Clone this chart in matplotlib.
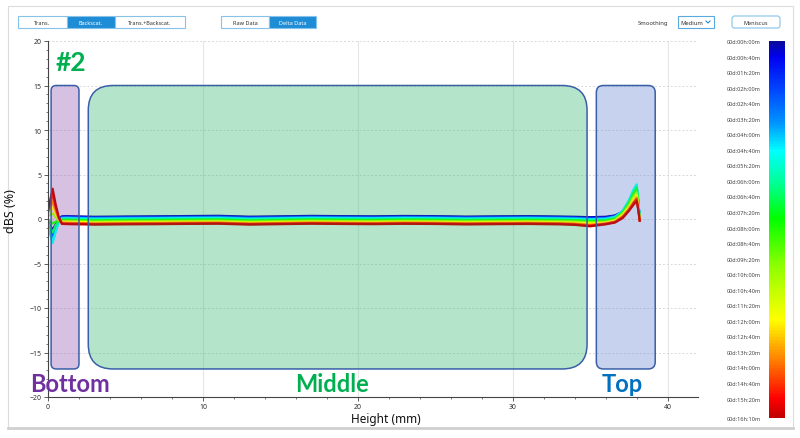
import matplotlib
matplotlib.use("Agg")
import matplotlib.pyplot as plt
from matplotlib.cm import ScalarMappable
from matplotlib.colors import LinearSegmentedColormap, Normalize, to_rgba
from matplotlib.patches import FancyBboxPatch, Rectangle
from matplotlib.ticker import MultipleLocator

plt.rcParams["font.family"] = ["Noto Sans", "DejaVu Sans"]

# sample heights (mm) shared by all scans
HEIGHTS = [0.0, 0.15, 0.3, 0.5, 0.7, 0.9, 1.2, 1.6, 2.2,
           3, 5, 7, 9, 11, 13, 15, 17, 19, 21, 23, 25, 27, 29, 31, 33,
           34, 35, 36, 36.6, 37.1, 37.5, 37.8, 38.0, 38.1, 38.2]

# scan times in minutes since start
SCAN_MINUTES = [0, 60, 150, 240, 290, 400, 480, 600, 720, 820, 900, 970]

# delta backscattering (%) per scan
DBS_SCANS = [
    [-0.3, -0.8, -1.2, -0.6, 0.0, 0.3, 0.32, 0.3, 0.28,
     0.25, 0.28, 0.3, 0.33, 0.36, 0.26, 0.3, 0.35, 0.32, 0.3, 0.34, 0.32, 0.27, 0.3, 0.32, 0.28,
     0.25, 0.2, 0.25, 0.4, 0.8, 1.5, 2.4, 3.0, 1.8, 0.1],
    [-0.4, -1.0, -1.6, -0.8, -0.1, 0.25, 0.27, 0.25, 0.22,
     0.19, 0.22, 0.25, 0.27, 0.3, 0.2, 0.24, 0.29, 0.26, 0.24, 0.28, 0.26, 0.21, 0.24, 0.26, 0.22,
     0.18, 0.13, 0.18, 0.35, 0.8, 1.6, 2.6, 3.2, 1.9, 0.1],
    [-0.5, -1.3, -2.0, -1.0, -0.2, 0.18, 0.2, 0.18, 0.15,
     0.12, 0.15, 0.17, 0.2, 0.23, 0.12, 0.17, 0.22, 0.19, 0.17, 0.21, 0.19, 0.14, 0.17, 0.19, 0.15,
     0.12, 0.05, 0.1, 0.3, 0.85, 1.8, 2.9, 3.5, 2.1, 0.05],
    [-0.6, -1.6, -2.5, -1.3, -0.3, 0.1, 0.12, 0.1, 0.08,
     0.05, 0.08, 0.1, 0.13, 0.15, 0.05, 0.1, 0.15, 0.12, 0.1, 0.14, 0.12, 0.07, 0.1, 0.12, 0.08,
     0.05, -0.02, 0.04, 0.25, 0.9, 2.0, 3.2, 3.8, 2.2, 0.05],
    [-0.7, -1.8, -2.7, -1.4, -0.35, 0.05, 0.06, 0.04, 0.02,
     -0.01, 0.02, 0.04, 0.07, 0.09, -0.01, 0.04, 0.09, 0.06, 0.04, 0.08, 0.06, 0.01, 0.04, 0.06, 0.02,
     -0.01, -0.08, -0.02, 0.2, 0.9, 2.1, 3.3, 3.9, 2.3, 0.0],
    [-0.3, -1.0, -1.5, -0.7, -0.2, -0.05, -0.04, -0.06, -0.08,
     -0.11, -0.08, -0.06, -0.03, -0.01, -0.11, -0.06, -0.01, -0.04, -0.06, -0.02, -0.04, -0.09, -0.06, -0.04, -0.08,
     -0.11, -0.18, -0.12, 0.1, 0.8, 1.9, 3.0, 3.6, 2.1, 0.0],
    [0.0, -0.3, -0.5, -0.3, -0.2, -0.13, -0.12, -0.14, -0.16,
     -0.19, -0.16, -0.14, -0.11, -0.09, -0.19, -0.14, -0.09, -0.12, -0.14, -0.1, -0.12, -0.17, -0.14, -0.12, -0.16,
     -0.19, -0.26, -0.2, 0.0, 0.7, 1.7, 2.8, 3.3, 1.9, -0.05],
    [0.3, 0.5, 0.6, 0.2, -0.15, -0.24, -0.23, -0.25, -0.27,
     -0.3, -0.27, -0.25, -0.22, -0.2, -0.3, -0.25, -0.2, -0.23, -0.25, -0.21, -0.23, -0.28, -0.25, -0.23, -0.27,
     -0.3, -0.4, -0.32, -0.1, 0.6, 1.5, 2.5, 3.0, 1.7, -0.1],
    [0.5, 0.9, 1.3, 0.6, -0.1, -0.34, -0.35, -0.37, -0.38,
     -0.41, -0.38, -0.36, -0.33, -0.31, -0.41, -0.36, -0.31, -0.34, -0.36, -0.32, -0.34, -0.39, -0.36, -0.34, -0.38,
     -0.42, -0.52, -0.42, -0.2, 0.45, 1.3, 2.2, 2.7, 1.5, -0.1],
    [0.7, 1.3, 2.0, 0.9, 0.0, -0.43, -0.44, -0.46, -0.47,
     -0.5, -0.47, -0.45, -0.42, -0.4, -0.5, -0.45, -0.4, -0.43, -0.45, -0.41, -0.43, -0.48, -0.45, -0.43, -0.47,
     -0.52, -0.65, -0.5, -0.3, 0.3, 1.1, 1.9, 2.4, 1.3, -0.15],
    [0.9, 1.8, 2.8, 1.3, 0.1, -0.5, -0.51, -0.53, -0.54,
     -0.57, -0.54, -0.52, -0.49, -0.47, -0.57, -0.52, -0.47, -0.5, -0.52, -0.48, -0.5, -0.55, -0.52, -0.5, -0.54,
     -0.6, -0.75, -0.55, -0.35, 0.2, 1.0, 1.8, 2.2, 1.2, -0.2],
    [1.1, 2.2, 3.4, 1.6, 0.2, -0.55, -0.57, -0.59, -0.6,
     -0.63, -0.6, -0.58, -0.55, -0.53, -0.63, -0.58, -0.53, -0.56, -0.58, -0.54, -0.56, -0.61, -0.58, -0.56, -0.6,
     -0.66, -0.82, -0.6, -0.4, 0.1, 0.9, 1.6, 2.0, 1.1, -0.2],
]

COLORBAR_MINUTES = [0, 40, 80, 120, 160, 200, 240, 280, 320, 360, 400, 440,
                    480, 520, 560, 600, 640, 680, 720, 760, 800, 840, 880, 920, 970]

CMAP_STOPS = [(0.0, "#0a0a9a"), (0.04, "#0000f0"), (0.14, "#0050ff"),
              (0.22, "#0098ff"), (0.29, "#00ffff"), (0.38, "#00ff90"),
              (0.47, "#00ff00"), (0.60, "#90ff00"), (0.74, "#ffff00"),
              (0.86, "#ff7000"), (0.95, "#ff0000"), (1.0, "#c00000")]

# zones: label, x from, x to, fill colour, corner radius (mm), label x, label colour
ZONES = [
    ("Bottom", 0.2, 2.0, "#9661b9", 0.33, 1.45, "#7030a0"),
    ("Middle", 2.6, 34.8, "#41c078", 1.6, 18.33, "#00b050"),
    ("Top", 35.4, 39.2, "#708ed4", 0.45, 37.09, "#0070c0"),
]
ZONE_Y = (-16.85, 15.0)

W, H = 800, 439
fig = plt.figure(figsize=(W / 100, H / 100), dpi=100)
fig.patch.set_facecolor("white")

# --- window chrome drawn in pixel coordinates ---
ui = fig.add_axes([0, 0, 1, 1], zorder=0)
ui.set_xlim(0, W)
ui.set_ylim(H, 0)
ui.axis("off")
ui.add_patch(Rectangle((8, 7), 785, 422, facecolor="white", edgecolor="#dcdcdc", lw=0.8))
ui.plot([8, 793], [429.5, 429.5], color="#cfcfcf", lw=2)


def button(x0, x1, label, selected=False, rounded=False):
    fc = "#1f8dd6" if selected else "white"
    tc = "white" if selected else "#333333"
    if rounded:
        ui.add_patch(FancyBboxPatch((x0, 17), x1 - x0, 12, boxstyle="round,pad=0,rounding_size=2.5",
                                    facecolor=fc, edgecolor="#86c3ea", lw=0.8))
    else:
        ui.add_patch(Rectangle((x0, 17), x1 - x0, 12, facecolor=fc, edgecolor="#86c3ea", lw=0.8))
    ui.text((x0 + x1) / 2, 23.2, label, ha="center", va="center", fontsize=4, color=tc)


button(18, 67, "Trans.")
button(67, 115, "Backscat.", selected=True)
button(115, 185, "Trans.+Backscat.")
button(221, 269, "Raw Data")
button(269, 316, "Delta Data", selected=True)
button(732, 780, "Meniscus", rounded=True)
ui.text(653, 23.2, "Smoothing", ha="center", va="center", fontsize=4.2, color="#333333")
ui.add_patch(Rectangle((678, 17), 36, 12, facecolor="white", edgecolor="#5aa9e0", lw=0.8))
ui.text(680, 23.2, "Medium", ha="left", va="center", fontsize=4.2, color="#333333")
ui.plot([706, 708, 710], [22, 24, 22], color="#2a8ad4", lw=0.8)

# --- main plot ---
cmap = LinearSegmentedColormap.from_list("scan_time", CMAP_STOPS)
norm = Normalize(vmin=COLORBAR_MINUTES[0], vmax=COLORBAR_MINUTES[-1])

ax = fig.add_axes([48 / W, 1 - 398 / H, 650 / W, 356 / H], zorder=1)
ax.set_facecolor("white")
ax.set_xlim(0, 650 / 15.49)
ax.set_ylim(-20, 20)

for minutes, values in zip(SCAN_MINUTES, DBS_SCANS):
    ax.plot(HEIGHTS, values, color=cmap(norm(minutes)), lw=1.6, zorder=2, solid_joinstyle="round")

aspect = 15.49 / 8.9
for name, x0, x1, fill, radius, label_x, text_color in ZONES:
    style = f"round,pad=0,rounding_size={radius}"
    xy, w, h = (x0, ZONE_Y[0]), x1 - x0, ZONE_Y[1] - ZONE_Y[0]
    # tinted fill under the curves, light veil and outline above them
    ax.add_patch(FancyBboxPatch(xy, w, h, boxstyle=style, mutation_aspect=aspect,
                                facecolor=to_rgba(fill, 0.3), edgecolor="none", zorder=1.5))
    ax.add_patch(FancyBboxPatch(xy, w, h, boxstyle=style, mutation_aspect=aspect,
                                facecolor=to_rgba(fill, 0.12), edgecolor="#3a5fa8", lw=1.1, zorder=3))
    ax.text(label_x, -18.5, name, ha="center", va="center", fontsize=17,
            fontweight="bold", family="Lato", color=text_color, zorder=4, clip_on=False)

ax.text(1.48, 17.6, "#2", ha="center", va="center", fontsize=19, fontweight="bold",
        family="Lato", color="#00b050", zorder=4)

ax.xaxis.set_major_locator(MultipleLocator(10))
ax.xaxis.set_minor_locator(MultipleLocator(2))
ax.yaxis.set_major_locator(MultipleLocator(5))
ax.yaxis.set_minor_locator(MultipleLocator(1))
ax.grid(axis="x", which="major", color="#e6e6e6", lw=0.8, zorder=0)
ax.grid(axis="y", which="major", color="#d9d9d9", lw=0.7, ls=(0, (2, 2)), zorder=0)
ax.set_axisbelow(True)
for side in ("top", "right"):
    ax.spines[side].set_visible(False)
for side in ("left", "bottom"):
    ax.spines[side].set_color("#444444")
    ax.spines[side].set_linewidth(0.8)
ax.tick_params(which="major", length=3, width=0.6, color="#444444", labelsize=5, labelcolor="#333333", pad=1.5)
ax.tick_params(which="minor", length=1.5, width=0.5, color="#444444")

ax.set_xlabel("Height (mm)", fontsize=8.5, color="#111111")
ax.set_ylabel("dBS (%)", fontsize=9, color="#111111")
ax.xaxis.set_label_coords((385.5 - 48) / 650, -0.042)
ax.yaxis.set_label_coords((17 - 48) / 650, 0.524)

# --- colour bar of scan time ---
cax = fig.add_axes([769 / W, 1 - 419 / H, 16 / W, 377 / H], zorder=1)
cb = fig.colorbar(ScalarMappable(norm=norm, cmap=cmap), cax=cax, ticks=COLORBAR_MINUTES)
cb.outline.set_visible(False)
cax.invert_yaxis()
cax.yaxis.set_ticks_position("left")
cax.set_yticklabels([f"00d:{m // 60:02d}h:{m % 60:02d}m" for m in COLORBAR_MINUTES])
cax.tick_params(length=0, labelsize=4, labelcolor="#444444", pad=6)

fig.savefig("out.png", dpi=100)
